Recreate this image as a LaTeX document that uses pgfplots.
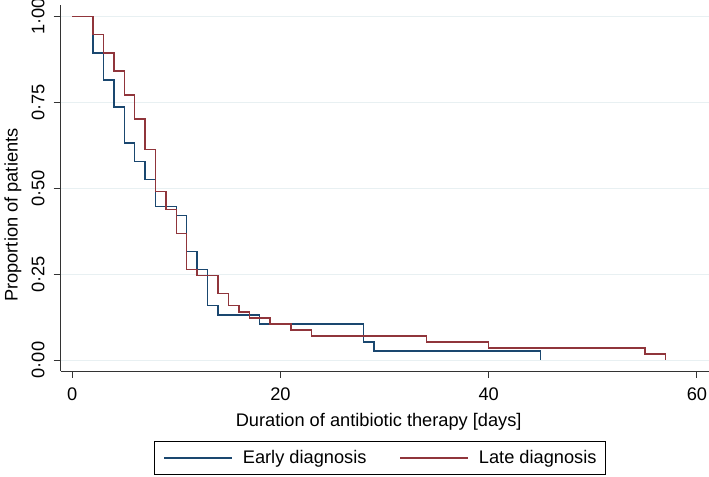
\documentclass[border=0pt]{standalone}
\usepackage{fontspec}
\setmainfont{Liberation Sans}
\usepackage{pgfplots}
\pgfplotsset{compat=1.18}
\definecolor{stnavy}{RGB}{26,71,111}
\definecolor{stmaroon}{RGB}{144,53,59}
\definecolor{stgrid}{RGB}{232,240,242}

\begin{document}
\fontsize{18.3}{22}\selectfont
\begin{tikzpicture}
  \begin{axis}[
    at={(60.7bp,106bp)}, anchor=south west,
    scale only axis, width=648.3bp, height=366bp,
    xmin=-1.11, xmax=61.16, ymin=-0.032, ymax=1.034,
    axis x line=bottom, axis y line=left,
    axis line style={-, black!80, line width=0.9bp},
    tick align=outside, major tick length=7bp,
    tick style={black!80, line width=0.9bp},
    xtick={0,20,40,60}, xticklabels={0,20,40,60},
    ytick={0,0.25,0.5,0.75,1},
    yticklabels={0·00,0·25,0·50,0·75,1·00},
    ymajorgrids, grid style={stgrid, line width=0.8bp},
    yticklabel style={xshift=-9bp, rotate=90, anchor=south, inner sep=0pt},
    xticklabel style={yshift=-10bp, anchor=north, inner sep=0pt},
    xlabel={Duration of antibiotic therapy [days]},
    ylabel={Proportion of patients},
    xlabel style={at={(axis description cs:0.4905,-0.1503)}, anchor=base, inner sep=0pt},
    ylabel style={at={(axis description cs:-0.0736,0.426)}, anchor=center, inner sep=0pt},
    legend columns=2,
    legend style={at={(axis description cs:0.4925,-0.191)}, anchor=north,
      draw=black, line width=0.9bp, inner xsep=9bp, inner ysep=8.5bp,
      nodes={inner sep=0pt},
      /tikz/every odd column/.style={column sep=10bp},
      /tikz/every even column/.style={column sep=33bp}},
    legend image code/.code={\draw[#1] (0bp,0bp) -- (68bp,0bp);},
  ]

  % early diagnosis, n = 38
  \addplot[const plot, stnavy, line width=1.4bp] table {
    x  y
    0  1
    2  0.8947
    3  0.8158
    4  0.7368
    5  0.6316
    6  0.5789
    7  0.5263
    8  0.4474
    10 0.4211
    11 0.3158
    12 0.2632
    13 0.1579
    14 0.1316
    18 0.1053
    28 0.0526
    29 0.0263
    45 0
  };
  \addlegendentry{Early diagnosis}

  % late diagnosis, n = 57
  \addplot[const plot, stmaroon, line width=1.4bp] table {
    x  y
    0  1
    2  0.9474
    3  0.8947
    4  0.8421
    5  0.7719
    6  0.7018
    7  0.6140
    8  0.4912
    9  0.4386
    10 0.3684
    11 0.2632
    12 0.2456
    14 0.1930
    15 0.1579
    16 0.1404
    17 0.1228
    19 0.1053
    21 0.0877
    23 0.0702
    34 0.0526
    40 0.0351
    55 0.0175
    57 0
  };
  \addlegendentry{Late diagnosis}

  \end{axis}
  \pgfresetboundingbox
  \useasboundingbox (0,0) rectangle (709bp,477bp);
\end{tikzpicture}
\end{document}
